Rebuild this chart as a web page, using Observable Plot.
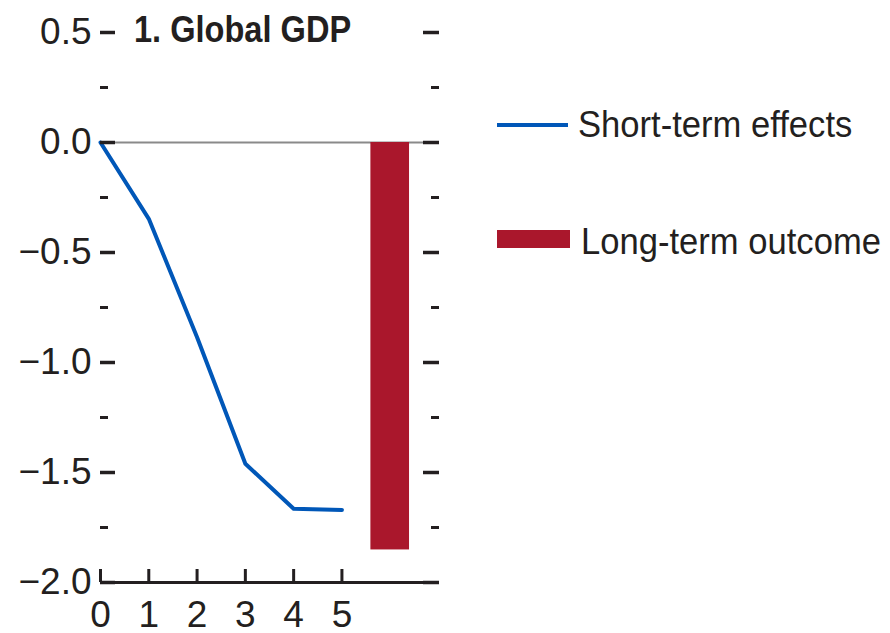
<!DOCTYPE html>
<html>
<head>
<meta charset="utf-8">
<script src="https://cdn.jsdelivr.net/npm/d3@7"></script>
<script src="https://cdn.jsdelivr.net/npm/@observablehq/plot@0.6"></script>
<style>
  body { margin: 0; background: #fff; }
  #wrap { position: relative; width: 890px; height: 633px; font-family: "Liberation Sans", Arial, sans-serif; color: #231f20; }
  .t { position: absolute; font-size: 37px; line-height: 1; white-space: nowrap; transform-origin: 0 0; }
  .sw { position: absolute; }
</style>
</head>
<body>
<div id="wrap"></div>
<script>
const title = "1. Global GDP";
const years = [0, 1, 2, 3, 4, 5];
const shortTerm = [0, -0.347, -0.885, -1.46, -1.665, -1.67];
const longTermX = [6];
const longTerm = [-1.852];
const legendLabels = ["Short-term effects", "Long-term outcome"];
const colors = { short: "#0057B8", long: "#AA172C" };
const majorTicks = [0.5, 0, -0.5, -1, -1.5, -2];
const minorTicks = [0.25, -0.25, -0.75, -1.25, -1.75];
const xTicks = [0, 1, 2, 3, 4, 5];

const lineData = years.map((x, i) => ({ x, y: shortTerm[i] }));
const barData = longTermX.map((x, i) => ({ x, y: longTerm[i] }));
const ink = "#231f20";

const chart = Plot.plot({
  width: 890,
  height: 633,
  marginLeft: 100,
  marginRight: 452,
  marginTop: 32,
  marginBottom: 51,
  style: { fontFamily: "'Liberation Sans', Arial, sans-serif", fontSize: "37px", color: ink, background: "#fff" },
  x: { domain: [0, 7], axis: null },
  y: { domain: [-2, 0.5], axis: null },
  marks: [
    Plot.ruleY([0], { stroke: "#8a8a8a", strokeWidth: 2 }),
    Plot.rectY(barData, { x1: d => d.x - 0.4, x2: d => d.x + 0.4, y1: 0, y2: "y", fill: colors.long }),
    Plot.line(lineData, { x: "x", y: "y", stroke: colors.short, strokeWidth: 4 }),
    // left ticks (inward)
    Plot.axisY({ anchor: "left", ticks: majorTicks, tickSize: -15, text: null, label: null, stroke: ink, strokeWidth: 3.5 }),
    Plot.axisY({ anchor: "left", ticks: minorTicks, tickSize: -8, text: null, label: null, stroke: ink, strokeWidth: 3 }),
    // right ticks (inward)
    Plot.axisY({ anchor: "right", ticks: majorTicks, tickSize: -16, text: null, label: null, stroke: ink, strokeWidth: 3.5 }),
    Plot.axisY({ anchor: "right", ticks: minorTicks, tickSize: -8, text: null, label: null, stroke: ink, strokeWidth: 3 }),
    // left labels
    Plot.axisY({ anchor: "left", ticks: majorTicks, tickSize: 0, tickPadding: 9, tickFormat: d3.format(".1f"), label: null, fill: ink }),
    // x axis
    Plot.ruleY([-2], { stroke: ink, strokeWidth: 3 }),
    Plot.axisX({ anchor: "bottom", ticks: xTicks, tickSize: -13, text: null, label: null, stroke: ink, strokeWidth: 3 }),
    Plot.axisX({ anchor: "bottom", ticks: xTicks, tickSize: 0, tickPadding: 18, tickFormat: d3.format("d"), label: null, fill: ink })
  ]
});

const wrap = document.getElementById("wrap");
wrap.appendChild(chart);

function addText(txt, left, top, bold, sx) {
  const d = document.createElement("div");
  d.className = "t";
  d.textContent = txt;
  d.style.left = left + "px";
  d.style.top = top + "px";
  d.style.transform = "scaleX(" + sx + ")";
  if (bold) d.style.fontWeight = "bold";
  wrap.appendChild(d);
}
function addSwatch(left, top, w, h, color) {
  const d = document.createElement("div");
  d.className = "sw";
  Object.assign(d.style, { left: left + "px", top: top + "px", width: w + "px", height: h + "px", background: color });
  wrap.appendChild(d);
}
addText(title, 134, 11, true, 0.88);
addSwatch(497, 123, 71, 4, colors.short);
addText(legendLabels[0], 578, 106, false, 0.935);
addSwatch(497, 230, 73, 18, colors.long);
addText(legendLabels[1], 581, 223, false, 0.935);
</script>
</body>
</html>
